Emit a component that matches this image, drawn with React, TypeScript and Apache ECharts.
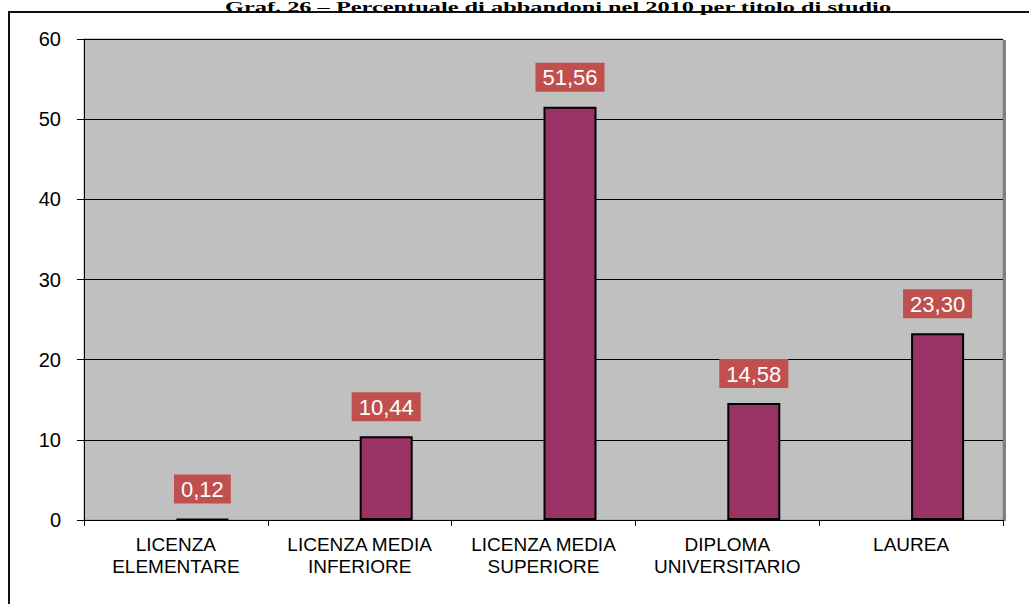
import React, { useEffect, useRef } from "react";
import * as echarts from "echarts";

const titleText = "Graf. 26 – Percentuale di abbandoni nel 2010 per titolo di studio";
const categories = [
  "LICENZA\nELEMENTARE",
  "LICENZA MEDIA\nINFERIORE",
  "LICENZA MEDIA\nSUPERIORE",
  "DIPLOMA\nUNIVERSITARIO",
  "LAUREA",
];
const placeholderValues = [null, null, null, null, null];
const abbandoniValues = [0.12, 10.44, 51.56, 14.58, 23.3];
const yMin = 0;
const yMax = 60;
const yInterval = 10;

export default function App() {
  const ref = useRef<HTMLDivElement>(null);
  useEffect(() => {
    if (!ref.current) return;
    const chart = echarts.init(ref.current, null, { renderer: "svg" });
    chart.setOption({
      animation: false,
      backgroundColor: "#ffffff",
      textStyle: { fontFamily: "Liberation Sans, Arial, sans-serif" },
      grid: {
        left: 84,
        right: 26,
        top: 39,
        bottom: 84,
        show: true,
        backgroundColor: "#c0c0c0",
        borderColor: "#9a9a9a",
        borderWidth: 1,
      },
      graphic: [
        {
          type: "rect",
          shape: { x: 9, y: 12, width: 1100, height: 700 },
          style: { fill: "none", stroke: "#111", lineWidth: 2 },
          silent: true,
        },
        {
          type: "rect",
          shape: { x: 1003, y: 40, width: 3, height: 481 },
          style: { fill: "#808080" },
          silent: true,
        },
        {
          type: "text",
          x: 558,
          y: 0,
          scaleX: 1.74,
          style: {
            text: titleText,
            font: 'bold 14px "Liberation Serif", "Times New Roman", serif',
            fill: "#000",
            textAlign: "center",
            textVerticalAlign: "top",
          },
          silent: true,
        },
      ],
      xAxis: {
        type: "category",
        data: categories,
        axisLine: { lineStyle: { color: "#000", width: 1 } },
        axisTick: { show: true, length: 6, lineStyle: { color: "#000" } },
        axisLabel: {
          color: "#000",
          fontSize: 19,
          lineHeight: 22,
          margin: 13,
          interval: 0,
        },
        splitLine: { show: false },
      },
      yAxis: {
        type: "value",
        min: yMin,
        max: yMax,
        interval: yInterval,
        axisLine: { show: true, lineStyle: { color: "#000", width: 1 } },
        axisTick: { show: true, length: 7, lineStyle: { color: "#000" } },
        axisLabel: { color: "#000", fontSize: 20, margin: 23 },
        splitLine: { show: true, lineStyle: { color: "#000", width: 1 } },
      },
      series: [
        {
          type: "bar",
          name: "",
          data: placeholderValues,
          barWidth: 53,
          barGap: "0%",
        },
        {
          type: "bar",
          name: "Percentuale di abbandoni",
          data: abbandoniValues,
          barWidth: 53,
          barGap: "0%",
          itemStyle: { color: "#993366", borderColor: "#000", borderWidth: 2 },
          label: {
            show: true,
            position: "top",
            distance: 15,
            color: "#ffffff",
            fontSize: 22,
            backgroundColor: "#c0504d",
            padding: [4, 7, 3, 7],
            formatter: (p: any) => Number(p.value).toFixed(2).replace(".", ","),
          },
        },
      ],
    });
    return () => chart.dispose();
  }, []);
  return (
    <div
      ref={ref}
      style={{ position: "absolute", left: 0, top: 0, width: 1029, height: 604 }}
    />
  );
}
